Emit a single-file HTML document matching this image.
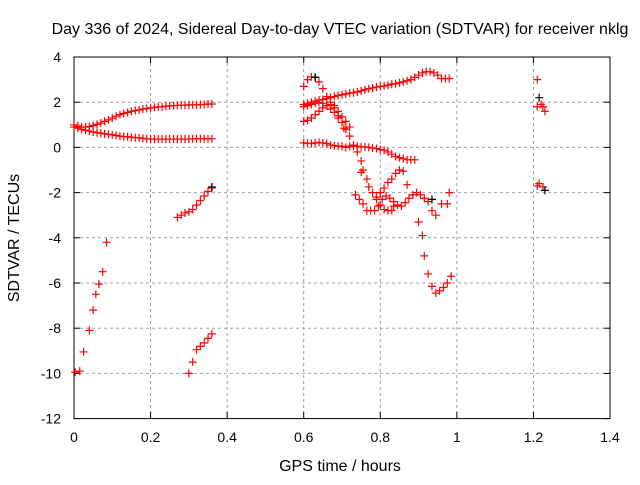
<!DOCTYPE html>
<html><head><meta charset="utf-8"><style>
body{margin:0;background:#fff}
svg text{font-family:"Liberation Sans",sans-serif;font-size:14px;fill:#000}
svg text.big{font-size:16px}
</style></head><body>
<svg width="640" height="480" xmlns="http://www.w3.org/2000/svg">
<rect width="640" height="480" fill="#fff"/>
<text class="big" x="340" y="34" text-anchor="middle">Day 336 of 2024, Sidereal Day-to-day VTEC variation (SDTVAR) for receiver nklg</text>
<g id="grid"></g>
<g id="axes"></g>
<g id="marks"></g>
<text class="big" x="340" y="471" text-anchor="middle">GPS time / hours</text>
<text class="big" transform="translate(19,238) rotate(-90)" text-anchor="middle">SDTVAR / TECUs</text>
</svg>
<script>
const xTicks=[0,0.2,0.4,0.6,0.8,1,1.2,1.4];
const yTicks=[4,2,0,-2,-4,-6,-8,-10,-12];
const seriesUpper=[[0,1.0],[0.01,0.95],[0.02,0.9],[0.03,0.9],[0.04,0.92],[0.05,0.97],[0.06,1.02],[0.07,1.08],[0.08,1.15],[0.09,1.22],[0.1,1.3],[0.11,1.38],[0.12,1.45],[0.13,1.5],[0.14,1.55],[0.15,1.6],[0.16,1.63],[0.17,1.66],[0.18,1.7],[0.19,1.72],[0.2,1.75],[0.21,1.77],[0.22,1.79],[0.23,1.8],[0.24,1.82],[0.25,1.84],[0.26,1.85],[0.27,1.86],[0.28,1.87],[0.29,1.87],[0.3,1.88],[0.31,1.88],[0.32,1.88],[0.33,1.89],[0.34,1.9],[0.35,1.92],[0.36,1.92]];
const seriesLower=[[0,0.9],[0.01,0.85],[0.02,0.8],[0.03,0.76],[0.04,0.72],[0.05,0.68],[0.06,0.65],[0.07,0.63],[0.08,0.6],[0.09,0.58],[0.1,0.56],[0.11,0.53],[0.12,0.5],[0.13,0.48],[0.14,0.47],[0.15,0.45],[0.16,0.43],[0.17,0.42],[0.18,0.4],[0.19,0.38],[0.2,0.37],[0.21,0.37],[0.22,0.37],[0.23,0.37],[0.24,0.37],[0.25,0.37],[0.26,0.37],[0.27,0.37],[0.28,0.37],[0.29,0.37],[0.3,0.37],[0.31,0.38],[0.32,0.38],[0.33,0.38],[0.34,0.38],[0.35,0.38],[0.36,0.38]];
const seriesSteep=[[0.003,-9.95],[0.015,-9.9],[0.025,-9.05],[0.04,-8.1],[0.05,-7.2],[0.057,-6.5],[0.065,-6.05],[0.075,-5.5],[0.085,-4.2]];
const seriesMid=[[0.27,-3.1],[0.28,-3.0],[0.29,-2.9],[0.3,-2.85],[0.31,-2.75],[0.32,-2.55],[0.33,-2.35],[0.34,-2.15],[0.35,-1.95],[0.36,-1.8]];
const seriesDeep=[[0.3,-10.0],[0.31,-9.5],[0.32,-8.95],[0.33,-8.8],[0.34,-8.65],[0.35,-8.45],[0.36,-8.25]];
const seriesRise=[[0.6,1.9],[0.61,1.95],[0.62,2.0],[0.63,2.05],[0.64,2.1],[0.65,2.12],[0.66,2.16],[0.67,2.2],[0.68,2.25],[0.69,2.3],[0.7,2.33],[0.71,2.37],[0.72,2.4],[0.73,2.42],[0.74,2.45],[0.75,2.5],[0.76,2.55],[0.77,2.6],[0.78,2.63],[0.79,2.67],[0.8,2.7],[0.81,2.72],[0.82,2.75],[0.83,2.8],[0.84,2.82],[0.85,2.86],[0.86,2.9],[0.87,2.95],[0.88,3.0],[0.89,3.1],[0.9,3.2],[0.91,3.3],[0.92,3.35],[0.93,3.35],[0.94,3.3],[0.95,3.2],[0.96,3.05],[0.97,3.05],[0.98,3.05]];
const seriesPeak=[[0.6,2.7],[0.61,3.0],[0.62,3.12],[0.63,3.1],[0.64,2.9],[0.65,2.6],[0.66,2.25],[0.67,2.0],[0.68,1.75],[0.69,1.4],[0.7,1.1],[0.705,0.85],[0.71,0.8],[0.72,0.5],[0.73,0.1],[0.74,-0.2],[0.75,-0.6],[0.755,-1.0],[0.765,-1.4],[0.77,-1.75],[0.78,-2.0],[0.79,-2.3],[0.8,-2.55],[0.81,-2.75],[0.82,-2.8],[0.83,-2.8],[0.835,-2.6]];
const seriesHump=[[0.6,1.15],[0.61,1.2],[0.62,1.3],[0.63,1.45],[0.64,1.6],[0.65,1.75],[0.66,1.85],[0.67,1.9],[0.68,1.85],[0.69,1.6],[0.7,1.35],[0.71,1.15],[0.72,0.9]];
const seriesShoulder=[[0.6,1.8],[0.61,1.85],[0.62,1.9],[0.63,1.95],[0.64,2.0],[0.65,1.95],[0.66,1.85],[0.67,1.7],[0.68,1.55],[0.69,1.3]];
const seriesFlat=[[0.6,0.2],[0.61,0.18],[0.62,0.17],[0.63,0.2],[0.64,0.22],[0.65,0.2],[0.66,0.17],[0.67,0.1],[0.68,0.08],[0.69,0.05],[0.7,0.05],[0.71,0.0],[0.72,0.05],[0.73,0.05],[0.74,0.05],[0.75,0.03],[0.76,0.02],[0.77,0.0],[0.78,-0.03],[0.79,-0.05],[0.8,-0.1],[0.81,-0.12],[0.82,-0.2],[0.83,-0.3],[0.84,-0.4],[0.85,-0.45],[0.86,-0.5],[0.87,-0.55],[0.88,-0.55],[0.89,-0.55]];
const seriesWave=[[0.735,-2.1],[0.745,-2.3],[0.755,-2.5],[0.765,-2.8],[0.775,-2.8],[0.785,-2.8],[0.795,-2.6],[0.805,-2.3],[0.815,-2.15],[0.825,-2.25],[0.835,-2.4],[0.845,-2.55],[0.855,-2.6],[0.865,-2.45],[0.875,-2.25],[0.885,-2.1],[0.895,-2.0],[0.905,-2.1],[0.915,-2.25],[0.925,-2.4],[0.935,-2.8],[0.945,-3.0],[0.96,-2.5],[0.98,-2.0],[0.975,-2.5]];
const seriesBranch=[[0.75,-1.1],[0.79,-2.2],[0.8,-2.0],[0.81,-1.8],[0.82,-1.55],[0.83,-1.4],[0.84,-1.15],[0.85,-1.0],[0.86,-1.05],[0.87,-1.65]];
const seriesDip=[[0.9,-3.3],[0.91,-3.9],[0.915,-4.8],[0.925,-5.6],[0.935,-6.15],[0.945,-6.45],[0.955,-6.35],[0.965,-6.2],[0.975,-6.0],[0.985,-5.7]];
const seriesLate=[[1.21,3.0],[1.21,1.8],[1.22,1.9],[1.225,1.8],[1.23,1.6],[1.21,-1.7],[1.215,-1.6],[1.225,-1.75]];
const seriesBlack=[[1.215,2.2],[1.23,-1.9],[0.36,-1.75],[0.63,3.1],[0.935,-2.3]];
const X=v=>74+v*(536/1.4), Y=v=>57+(4-v)*(361.6/16);
const NS="http://www.w3.org/2000/svg";
function mk(t,a,p){const e=document.createElementNS(NS,t);for(const k in a)e.setAttribute(k,a[k]);p.appendChild(e);return e;}
const grid=document.getElementById('grid'),axes=document.getElementById('axes'),marks=document.getElementById('marks');
xTicks.forEach(t=>{const x=X(t);
 if(t>0&&t<1.4){const l=mk('line',{x1:x,x2:x,y1:57,y2:418.6,stroke:'#a0a0a0','stroke-dasharray':'3,3'},grid);}
 mk('line',{x1:x,x2:x,y1:418.6,y2:412,stroke:'#000'},axes);mk('line',{x1:x,x2:x,y1:57,y2:63,stroke:'#000'},axes);
 const tx=mk('text',{x:x,y:442,'text-anchor':'middle'},axes);tx.textContent=String(t);});
yTicks.forEach(t=>{const y=Y(t);
 if(t<4&&t>-12){const l=mk('line',{x1:74,x2:610,y1:y,y2:y,stroke:'#a0a0a0','stroke-dasharray':'3,3'},grid);}
 mk('line',{x1:74,x2:80,y1:y,y2:y,stroke:'#000'},axes);mk('line',{x1:604,x2:610,y1:y,y2:y,stroke:'#000'},axes);
 const tx=mk('text',{x:61,y:y+5,'text-anchor':'end'},axes);tx.textContent=String(t);});
const fr=mk('rect',{x:74,y:57,width:536,height:361.6,fill:'none',stroke:'#000'},axes);

function plot(arr,col){arr.forEach(p=>{const x=X(p[0]),y=Y(p[1]);
 const e=mk('path',{d:`M${x-4} ${y}H${x+4}M${x} ${y-4}V${y+4}`,stroke:col,'stroke-width':1.2,fill:'none'},marks);
 });}
[seriesUpper,seriesLower,seriesSteep,seriesMid,seriesDeep,seriesRise,seriesPeak,seriesHump,seriesShoulder,seriesFlat,seriesWave,seriesBranch,seriesDip,seriesLate].forEach(s=>plot(s,'#f00'));
plot(seriesBlack,'#000');
</script>
</body></html>
